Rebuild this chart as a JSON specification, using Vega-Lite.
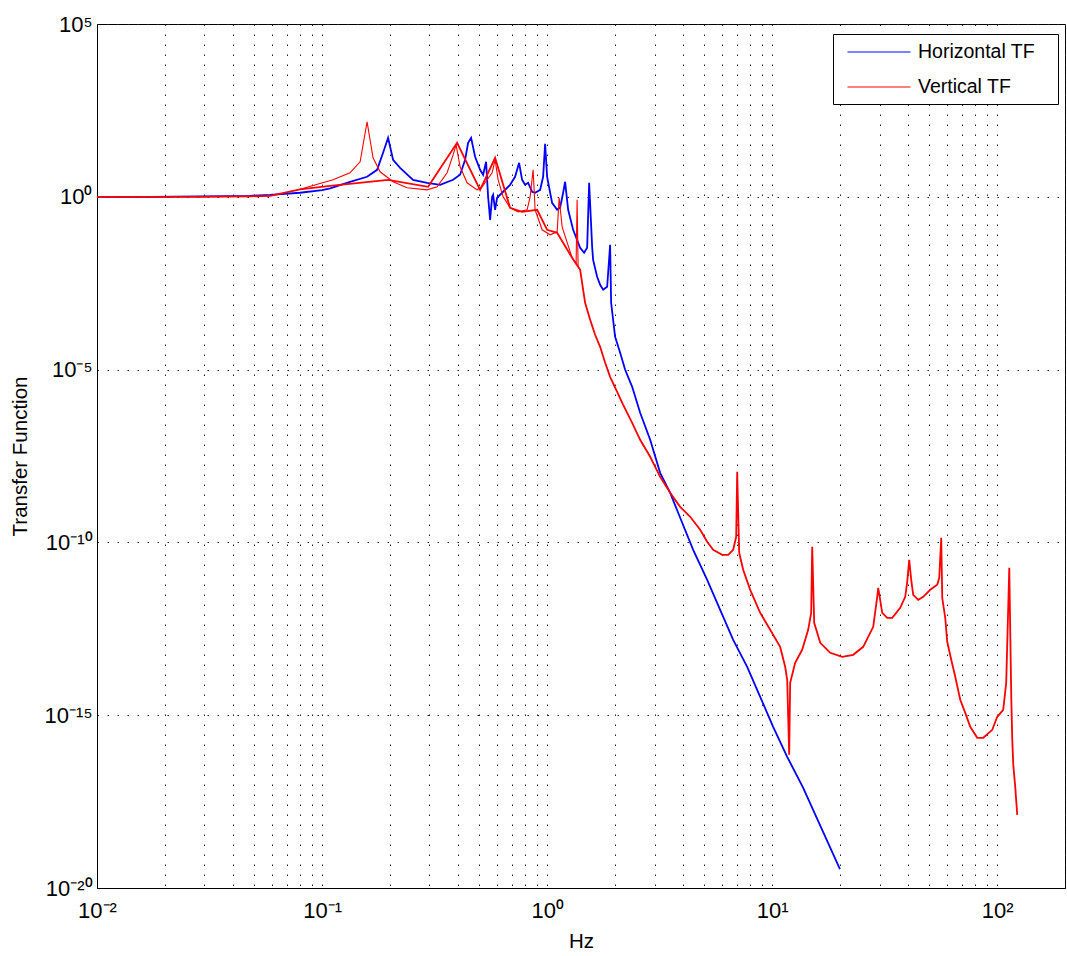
{
  "$schema": "https://vega.github.io/schema/vega-lite/v6.json",
  "width": 968,
  "height": 864,
  "autosize": {"type": "none"},
  "padding": {"left": 97, "top": 24, "right": 2, "bottom": 68},
  "background": "white",
  "config": {
    "view": {"stroke": "#000000", "strokeWidth": 1},
    "font": "Liberation Sans",
    "axis": {
      "domainColor": "#000000",
      "grid": true,
      "gridDash": [1.5, 8.5],
      "gridColor": "#222222",
      "gridWidth": 1,
      "ticks": false,
      "labelFont": "Liberation Sans",
      "labelFontSize": 22,
      "labelColor": "#000000",
      "labelFlush": false,
      "labelOverlap": false,
      "labelBound": false,
      "titleFont": "Liberation Sans",
      "titleFontSize": 20.5,
      "titleFontWeight": "normal",
      "titleColor": "#000000"
    },
    "legend": {
      "orient": "none",
      "legendX": 736,
      "legendY": 10,
      "strokeColor": "#000000",
      "fillColor": "#ffffff",
      "padding": 7,
      "symbolType": "M-0.333,0H5.667",
      "symbolSize": 441,
      "symbolStrokeWidth": 1,
      "labelFont": "Liberation Sans",
      "labelFontSize": 19.5,
      "labelColor": "#000000",
      "labelOffset": 56,
      "rowPadding": 14,
      "cornerRadius": 0
    }
  },
  "data": {
    "values": [
      {"series": "Horizontal TF", "trace": "main", "hz": 0.01, "tf": 1},
      {"series": "Horizontal TF", "trace": "main", "hz": 0.0172, "tf": 1.0},
      {"series": "Horizontal TF", "trace": "main", "hz": 0.0287, "tf": 1.03},
      {"series": "Horizontal TF", "trace": "main", "hz": 0.0479, "tf": 1.07},
      {"series": "Horizontal TF", "trace": "main", "hz": 0.0588, "tf": 1.14},
      {"series": "Horizontal TF", "trace": "main", "hz": 0.0798, "tf": 1.31},
      {"series": "Horizontal TF", "trace": "main", "hz": 0.1, "tf": 1.55},
      {"series": "Horizontal TF", "trace": "main", "hz": 0.1086, "tf": 1.75},
      {"series": "Horizontal TF", "trace": "main", "hz": 0.1331, "tf": 2.72},
      {"series": "Horizontal TF", "trace": "main", "hz": 0.1585, "tf": 3.79},
      {"series": "Horizontal TF", "trace": "main", "hz": 0.1756, "tf": 6.04},
      {"series": "Horizontal TF", "trace": "main", "hz": 0.1867, "tf": 18.8},
      {"series": "Horizontal TF", "trace": "main", "hz": 0.1965, "tf": 50.9},
      {"series": "Horizontal TF", "trace": "main", "hz": 0.2068, "tf": 11.8},
      {"series": "Horizontal TF", "trace": "main", "hz": 0.2222, "tf": 6.91},
      {"series": "Horizontal TF", "trace": "main", "hz": 0.2537, "tf": 3.10},
      {"series": "Horizontal TF", "trace": "main", "hz": 0.2929, "tf": 2.54},
      {"series": "Horizontal TF", "trace": "main", "hz": 0.3346, "tf": 2.22},
      {"series": "Horizontal TF", "trace": "main", "hz": 0.3822, "tf": 3.10},
      {"series": "Horizontal TF", "trace": "main", "hz": 0.4105, "tf": 4.33},
      {"series": "Horizontal TF", "trace": "main", "hz": 0.4321, "tf": 11.8},
      {"series": "Horizontal TF", "trace": "main", "hz": 0.4456, "tf": 36.5},
      {"series": "Horizontal TF", "trace": "main", "hz": 0.4595, "tf": 50.9},
      {"series": "Horizontal TF", "trace": "main", "hz": 0.4786, "tf": 14.4},
      {"series": "Horizontal TF", "trace": "main", "hz": 0.5037, "tf": 6.04},
      {"series": "Horizontal TF", "trace": "main", "hz": 0.5195, "tf": 4.33},
      {"series": "Horizontal TF", "trace": "main", "hz": 0.5356, "tf": 10.3},
      {"series": "Horizontal TF", "trace": "main", "hz": 0.5468, "tf": 1.0},
      {"series": "Horizontal TF", "trace": "main", "hz": 0.5581, "tf": 0.216},
      {"series": "Horizontal TF", "trace": "main", "hz": 0.5696, "tf": 1.0},
      {"series": "Horizontal TF", "trace": "main", "hz": 0.5754, "tf": 1.14},
      {"series": "Horizontal TF", "trace": "main", "hz": 0.5873, "tf": 0.421},
      {"series": "Horizontal TF", "trace": "main", "hz": 0.5995, "tf": 0.936},
      {"series": "Horizontal TF", "trace": "main", "hz": 0.6375, "tf": 1.40},
      {"series": "Horizontal TF", "trace": "main", "hz": 0.6846, "tf": 2.22},
      {"series": "Horizontal TF", "trace": "main", "hz": 0.7205, "tf": 3.79},
      {"series": "Horizontal TF", "trace": "main", "hz": 0.7507, "tf": 9.63},
      {"series": "Horizontal TF", "trace": "main", "hz": 0.7743, "tf": 3.10},
      {"series": "Horizontal TF", "trace": "main", "hz": 0.7984, "tf": 2.22},
      {"series": "Horizontal TF", "trace": "main", "hz": 0.8234, "tf": 2.54},
      {"series": "Horizontal TF", "trace": "main", "hz": 0.8577, "tf": 1.40},
      {"series": "Horizontal TF", "trace": "main", "hz": 0.8844, "tf": 1.31},
      {"series": "Horizontal TF", "trace": "main", "hz": 0.931, "tf": 1.59},
      {"series": "Horizontal TF", "trace": "main", "hz": 0.9599, "tf": 3.79},
      {"series": "Horizontal TF", "trace": "main", "hz": 0.9797, "tf": 34.2},
      {"series": "Horizontal TF", "trace": "main", "hz": 1.0, "tf": 3.79},
      {"series": "Horizontal TF", "trace": "main", "hz": 1.052, "tf": 0.671},
      {"series": "Horizontal TF", "trace": "main", "hz": 1.108, "tf": 0.421},
      {"series": "Horizontal TF", "trace": "main", "hz": 1.142, "tf": 0.481},
      {"series": "Horizontal TF", "trace": "main", "hz": 1.178, "tf": 1.31},
      {"series": "Horizontal TF", "trace": "main", "hz": 1.202, "tf": 2.72},
      {"series": "Horizontal TF", "trace": "main", "hz": 1.24, "tf": 0.421},
      {"series": "Horizontal TF", "trace": "main", "hz": 1.305, "tf": 0.111},
      {"series": "Horizontal TF", "trace": "main", "hz": 1.402, "tf": 0.0334},
      {"series": "Horizontal TF", "trace": "main", "hz": 1.46, "tf": 0.024},
      {"series": "Horizontal TF", "trace": "main", "hz": 1.506, "tf": 0.0334},
      {"series": "Horizontal TF", "trace": "main", "hz": 1.537, "tf": 2.54},
      {"series": "Horizontal TF", "trace": "main", "hz": 1.585, "tf": 0.0357},
      {"series": "Horizontal TF", "trace": "main", "hz": 1.601, "tf": 0.015},
      {"series": "Horizontal TF", "trace": "main", "hz": 1.668, "tf": 0.00484},
      {"series": "Horizontal TF", "trace": "main", "hz": 1.72, "tf": 0.00284},
      {"series": "Horizontal TF", "trace": "main", "hz": 1.774, "tf": 0.00204},
      {"series": "Horizontal TF", "trace": "main", "hz": 1.848, "tf": 0.00249},
      {"series": "Horizontal TF", "trace": "main", "hz": 1.867, "tf": 0.00632},
      {"series": "Horizontal TF", "trace": "main", "hz": 1.905, "tf": 0.0408},
      {"series": "Horizontal TF", "trace": "main", "hz": 1.925, "tf": 0.000857},
      {"series": "Horizontal TF", "trace": "main", "hz": 2.005, "tf": 8.89e-5},
      {"series": "Horizontal TF", "trace": "main", "hz": 2.111, "tf": 3.06e-5},
      {"series": "Horizontal TF", "trace": "main", "hz": 2.222, "tf": 9.87e-6},
      {"series": "Horizontal TF", "trace": "main", "hz": 2.387, "tf": 3.18e-6},
      {"series": "Horizontal TF", "trace": "main", "hz": 2.59, "tf": 5.62e-7},
      {"series": "Horizontal TF", "trace": "main", "hz": 2.87, "tf": 9.31e-8},
      {"series": "Horizontal TF", "trace": "main", "hz": 3.178, "tf": 1.03e-8},
      {"series": "Horizontal TF", "trace": "main", "hz": 3.522, "tf": 2.72e-9},
      {"series": "Horizontal TF", "trace": "main", "hz": 3.821, "tf": 7.19e-10},
      {"series": "Horizontal TF", "trace": "main", "hz": 4.456, "tf": 6.11e-11},
      {"series": "Horizontal TF", "trace": "main", "hz": 5.142, "tf": 8.28e-12},
      {"series": "Horizontal TF", "trace": "main", "hz": 5.873, "tf": 1.12e-12},
      {"series": "Horizontal TF", "trace": "main", "hz": 6.71, "tf": 1.52e-13},
      {"series": "Horizontal TF", "trace": "main", "hz": 7.743, "tf": 2.52e-14},
      {"series": "Horizontal TF", "trace": "main", "hz": 8.845, "tf": 3.41e-15},
      {"series": "Horizontal TF", "trace": "main", "hz": 10.1, "tf": 4.62e-16},
      {"series": "Horizontal TF", "trace": "main", "hz": 11.66, "tf": 6.25e-17},
      {"series": "Horizontal TF", "trace": "main", "hz": 13.73, "tf": 7.93e-18},
      {"series": "Horizontal TF", "trace": "main", "hz": 20.0, "tf": 3.5e-20},

      {"series": "Vertical TF", "trace": "main", "hz": 0.01, "tf": 1},
      {"series": "Vertical TF", "trace": "main", "hz": 0.0287, "tf": 1.0},
      {"series": "Vertical TF", "trace": "main", "hz": 0.0479, "tf": 1.03},
      {"series": "Vertical TF", "trace": "main", "hz": 0.0588, "tf": 1.07},
      {"series": "Vertical TF", "trace": "main", "hz": 0.0798, "tf": 1.65},
      {"series": "Vertical TF", "trace": "main", "hz": 0.1086, "tf": 2.08},
      {"series": "Vertical TF", "trace": "main", "hz": 0.1965, "tf": 3.10},
      {"series": "Vertical TF", "trace": "main", "hz": 0.2959, "tf": 1.95},
      {"series": "Vertical TF", "trace": "main", "hz": 0.3981, "tf": 36.5},
      {"series": "Vertical TF", "trace": "main", "hz": 0.5037, "tf": 1.59},
      {"series": "Vertical TF", "trace": "main", "hz": 0.5873, "tf": 13.4},
      {"series": "Vertical TF", "trace": "main", "hz": 0.6846, "tf": 0.481},
      {"series": "Vertical TF", "trace": "main", "hz": 0.7743, "tf": 0.368},
      {"series": "Vertical TF", "trace": "main", "hz": 0.9029, "tf": 0.421},
      {"series": "Vertical TF", "trace": "main", "hz": 1.0, "tf": 0.111},
      {"series": "Vertical TF", "trace": "main", "hz": 1.108, "tf": 0.0908},
      {"series": "Vertical TF", "trace": "main", "hz": 1.291, "tf": 0.0172},
      {"series": "Vertical TF", "trace": "main", "hz": 1.402, "tf": 0.00772},
      {"series": "Vertical TF", "trace": "main", "hz": 1.475, "tf": 0.000857},
      {"series": "Vertical TF", "trace": "main", "hz": 1.553, "tf": 0.000276},
      {"series": "Vertical TF", "trace": "main", "hz": 1.634, "tf": 0.000102},
      {"series": "Vertical TF", "trace": "main", "hz": 1.72, "tf": 4.57e-5},
      {"series": "Vertical TF", "trace": "main", "hz": 1.811, "tf": 1.57e-5},
      {"series": "Vertical TF", "trace": "main", "hz": 1.905, "tf": 6.19e-6},
      {"series": "Vertical TF", "trace": "main", "hz": 2.047, "tf": 2.28e-6},
      {"series": "Vertical TF", "trace": "main", "hz": 2.177, "tf": 9.58e-7},
      {"series": "Vertical TF", "trace": "main", "hz": 2.387, "tf": 2.89e-7},
      {"series": "Vertical TF", "trace": "main", "hz": 2.59, "tf": 9.31e-8},
      {"series": "Vertical TF", "trace": "main", "hz": 2.87, "tf": 3.0e-8},
      {"series": "Vertical TF", "trace": "main", "hz": 3.178, "tf": 7.91e-9},
      {"series": "Vertical TF", "trace": "main", "hz": 3.522, "tf": 2.72e-9},
      {"series": "Vertical TF", "trace": "main", "hz": 3.9, "tf": 1.07e-9},
      {"series": "Vertical TF", "trace": "main", "hz": 4.322, "tf": 5.5e-10},
      {"series": "Vertical TF", "trace": "main", "hz": 4.786, "tf": 2.32e-10},
      {"series": "Vertical TF", "trace": "main", "hz": 5.142, "tf": 1.04e-10},
      {"series": "Vertical TF", "trace": "main", "hz": 5.467, "tf": 6.11e-11},
      {"series": "Vertical TF", "trace": "main", "hz": 5.995, "tf": 4.38e-11},
      {"series": "Vertical TF", "trace": "main", "hz": 6.375, "tf": 4.38e-11},
      {"series": "Vertical TF", "trace": "main", "hz": 6.71, "tf": 6.11e-11},
      {"series": "Vertical TF", "trace": "main", "hz": 6.918, "tf": 1.45e-10},
      {"series": "Vertical TF", "trace": "main", "hz": 6.99, "tf": 1.1e-8},
      {"series": "Vertical TF", "trace": "main", "hz": 7.135, "tf": 5.0e-11},
      {"series": "Vertical TF", "trace": "main", "hz": 7.431, "tf": 1.61e-11},
      {"series": "Vertical TF", "trace": "main", "hz": 7.984, "tf": 4.25e-12},
      {"series": "Vertical TF", "trace": "main", "hz": 8.845, "tf": 9.18e-13},
      {"series": "Vertical TF", "trace": "main", "hz": 9.797, "tf": 2.96e-13},
      {"series": "Vertical TF", "trace": "main", "hz": 10.85, "tf": 9.53e-14},
      {"series": "Vertical TF", "trace": "main", "hz": 11.42, "tf": 2.52e-14},
      {"series": "Vertical TF", "trace": "main", "hz": 11.66, "tf": 1.06e-14},
      {"series": "Vertical TF", "trace": "main", "hz": 11.9, "tf": 7.14e-17},
      {"series": "Vertical TF", "trace": "main", "hz": 12.02, "tf": 8.66e-15},
      {"series": "Vertical TF", "trace": "main", "hz": 12.65, "tf": 3.28e-14},
      {"series": "Vertical TF", "trace": "main", "hz": 13.59, "tf": 7.81e-14},
      {"series": "Vertical TF", "trace": "main", "hz": 14.45, "tf": 2.96e-13},
      {"series": "Vertical TF", "trace": "main", "hz": 14.9, "tf": 9.18e-13},
      {"series": "Vertical TF", "trace": "main", "hz": 15.06, "tf": 7.46e-11},
      {"series": "Vertical TF", "trace": "main", "hz": 15.37, "tf": 4.72e-13},
      {"series": "Vertical TF", "trace": "main", "hz": 16.35, "tf": 1.24e-13},
      {"series": "Vertical TF", "trace": "main", "hz": 18.11, "tf": 6.39e-14},
      {"series": "Vertical TF", "trace": "main", "hz": 20.47, "tf": 4.9e-14},
      {"series": "Vertical TF", "trace": "main", "hz": 22.91, "tf": 5.59e-14},
      {"series": "Vertical TF", "trace": "main", "hz": 25.37, "tf": 9.53e-14},
      {"series": "Vertical TF", "trace": "main", "hz": 28.11, "tf": 3.61e-13},
      {"series": "Vertical TF", "trace": "main", "hz": 29.29, "tf": 2.67e-12},
      {"series": "Vertical TF", "trace": "main", "hz": 29.59, "tf": 4.86e-12},
      {"series": "Vertical TF", "trace": "main", "hz": 30.83, "tf": 9.18e-13},
      {"series": "Vertical TF", "trace": "main", "hz": 32.45, "tf": 6.58e-13},
      {"series": "Vertical TF", "trace": "main", "hz": 34.15, "tf": 6.58e-13},
      {"series": "Vertical TF", "trace": "main", "hz": 37.05, "tf": 1.28e-12},
      {"series": "Vertical TF", "trace": "main", "hz": 39.0, "tf": 2.67e-12},
      {"series": "Vertical TF", "trace": "main", "hz": 39.81, "tf": 7.24e-12},
      {"series": "Vertical TF", "trace": "main", "hz": 40.63, "tf": 3.14e-11},
      {"series": "Vertical TF", "trace": "main", "hz": 41.47, "tf": 8.28e-12},
      {"series": "Vertical TF", "trace": "main", "hz": 42.33, "tf": 3.05e-12},
      {"series": "Vertical TF", "trace": "main", "hz": 44.56, "tf": 2.18e-12},
      {"series": "Vertical TF", "trace": "main", "hz": 46.9, "tf": 2.67e-12},
      {"series": "Vertical TF", "trace": "main", "hz": 50.37, "tf": 4.25e-12},
      {"series": "Vertical TF", "trace": "main", "hz": 54.12, "tf": 5.93e-12},
      {"series": "Vertical TF", "trace": "main", "hz": 55.24, "tf": 9.46e-12},
      {"series": "Vertical TF", "trace": "main", "hz": 56.38, "tf": 1.36e-10},
      {"series": "Vertical TF", "trace": "main", "hz": 56.96, "tf": 2.49e-12},
      {"series": "Vertical TF", "trace": "main", "hz": 58.73, "tf": 6.58e-13},
      {"series": "Vertical TF", "trace": "main", "hz": 59.95, "tf": 1.33e-13},
      {"series": "Vertical TF", "trace": "main", "hz": 62.46, "tf": 4.01e-14},
      {"series": "Vertical TF", "trace": "main", "hz": 65.07, "tf": 1.29e-14},
      {"series": "Vertical TF", "trace": "main", "hz": 68.48, "tf": 2.79e-15},
      {"series": "Vertical TF", "trace": "main", "hz": 72.08, "tf": 1.17e-15},
      {"series": "Vertical TF", "trace": "main", "hz": 75.86, "tf": 4.62e-16},
      {"series": "Vertical TF", "trace": "main", "hz": 81.49, "tf": 2.22e-16},
      {"series": "Vertical TF", "trace": "main", "hz": 86.66, "tf": 2.22e-16},
      {"series": "Vertical TF", "trace": "main", "hz": 95.02, "tf": 3.78e-16},
      {"series": "Vertical TF", "trace": "main", "hz": 100, "tf": 8.99e-16},
      {"series": "Vertical TF", "trace": "main", "hz": 106.3, "tf": 1.43e-15},
      {"series": "Vertical TF", "trace": "main", "hz": 109.6, "tf": 8.66e-15},
      {"series": "Vertical TF", "trace": "main", "hz": 113.1, "tf": 1.84e-11},
      {"series": "Vertical TF", "trace": "main", "hz": 115.4, "tf": 3.41e-15},
      {"series": "Vertical TF", "trace": "main", "hz": 116.6, "tf": 1.94e-16},
      {"series": "Vertical TF", "trace": "main", "hz": 117.8, "tf": 3.67e-17},
      {"series": "Vertical TF", "trace": "main", "hz": 120.2, "tf": 8.48e-18},
      {"series": "Vertical TF", "trace": "main", "hz": 122.7, "tf": 1.31e-18},

      {"series": "Vertical TF", "trace": "thin", "hz": 0.0798, "tf": 1.65},
      {"series": "Vertical TF", "trace": "thin", "hz": 0.1119, "tf": 3.10},
      {"series": "Vertical TF", "trace": "thin", "hz": 0.1331, "tf": 4.95},
      {"series": "Vertical TF", "trace": "thin", "hz": 0.1476, "tf": 10.3},
      {"series": "Vertical TF", "trace": "thin", "hz": 0.1585, "tf": 148},
      {"series": "Vertical TF", "trace": "thin", "hz": 0.1685, "tf": 13.4},
      {"series": "Vertical TF", "trace": "thin", "hz": 0.1811, "tf": 5.29},
      {"series": "Vertical TF", "trace": "thin", "hz": 0.2068, "tf": 2.72},
      {"series": "Vertical TF", "trace": "thin", "hz": 0.2386, "tf": 1.82},
      {"series": "Vertical TF", "trace": "thin", "hz": 0.2929, "tf": 1.59},
      {"series": "Vertical TF", "trace": "thin", "hz": 0.3245, "tf": 1.95},
      {"series": "Vertical TF", "trace": "thin", "hz": 0.3594, "tf": 4.95},
      {"series": "Vertical TF", "trace": "thin", "hz": 0.3822, "tf": 16.4},
      {"series": "Vertical TF", "trace": "thin", "hz": 0.3941, "tf": 31.9},
      {"series": "Vertical TF", "trace": "thin", "hz": 0.4105, "tf": 7.38},
      {"series": "Vertical TF", "trace": "thin", "hz": 0.441, "tf": 2.54},
      {"series": "Vertical TF", "trace": "thin", "hz": 0.4885, "tf": 1.59},
      {"series": "Vertical TF", "trace": "thin", "hz": 0.5141, "tf": 1.95},
      {"series": "Vertical TF", "trace": "thin", "hz": 0.5696, "tf": 4.95},
      {"series": "Vertical TF", "trace": "thin", "hz": 0.5873, "tf": 11.8},
      {"series": "Vertical TF", "trace": "thin", "hz": 0.6057, "tf": 3.10},
      {"series": "Vertical TF", "trace": "thin", "hz": 0.6375, "tf": 1.0},
      {"series": "Vertical TF", "trace": "thin", "hz": 0.6846, "tf": 0.481},
      {"series": "Vertical TF", "trace": "thin", "hz": 0.743, "tf": 0.368},
      {"series": "Vertical TF", "trace": "thin", "hz": 0.8149, "tf": 0.421},
      {"series": "Vertical TF", "trace": "thin", "hz": 0.8403, "tf": 1.0},
      {"series": "Vertical TF", "trace": "thin", "hz": 0.8665, "tf": 6.04},
      {"series": "Vertical TF", "trace": "thin", "hz": 0.8844, "tf": 0.421},
      {"series": "Vertical TF", "trace": "thin", "hz": 0.9502, "tf": 0.111},
      {"series": "Vertical TF", "trace": "thin", "hz": 1.031, "tf": 0.0795},
      {"series": "Vertical TF", "trace": "thin", "hz": 1.108, "tf": 0.0971},
      {"series": "Vertical TF", "trace": "thin", "hz": 1.131, "tf": 0.936},
      {"series": "Vertical TF", "trace": "thin", "hz": 1.166, "tf": 0.135},
      {"series": "Vertical TF", "trace": "thin", "hz": 1.291, "tf": 0.0172},
      {"series": "Vertical TF", "trace": "thin", "hz": 1.345, "tf": 0.0115},
      {"series": "Vertical TF", "trace": "thin", "hz": 1.359, "tf": 0.819},
      {"series": "Vertical TF", "trace": "thin", "hz": 1.373, "tf": 0.00943},
      {"series": "Vertical TF", "trace": "thin", "hz": 1.402, "tf": 0.00772}
    ]
  },
  "encoding": {
    "x": {
      "field": "hz",
      "type": "quantitative",
      "scale": {"type": "log", "domain": [0.01, 200], "nice": false},
      "axis": {
        "values": [0.01, 0.02, 0.03, 0.04, 0.05, 0.06, 0.07, 0.08, 0.09, 0.1, 0.2, 0.3, 0.4, 0.5, 0.6, 0.7, 0.8, 0.9, 1, 2, 3, 4, 5, 6, 7, 8, 9, 10, 20, 30, 40, 50, 60, 70, 80, 90, 100, 200],
        "labelExpr": "datum.value == 0.01 ? '10⁻²' : datum.value == 0.1 ? '10⁻¹' : datum.value == 1 ? '10⁰' : datum.value == 10 ? '10¹' : datum.value == 100 ? '10²' : ''",
        "labelPadding": 12,
        "title": "Hz",
        "titleY": 53,
        "titleBaseline": "middle"
      }
    },
    "y": {
      "field": "tf",
      "type": "quantitative",
      "scale": {"type": "log", "domain": [1e-20, 100000], "nice": false},
      "axis": {
        "values": [1e-20, 1e-15, 1e-10, 1e-5, 1, 100000],
        "labelExpr": "datum.value < 1e-18 ? '10⁻²⁰' : datum.value < 1e-13 ? '10⁻¹⁵' : datum.value < 1e-8 ? '10⁻¹⁰' : datum.value < 1e-3 ? '10⁻⁵' : datum.value < 10 ? '10⁰' : '10⁵'",
        "labelPadding": 5,
        "title": "Transfer Function",
        "titleX": -77,
        "titleBaseline": "middle"
      }
    },
    "color": {
      "field": "series",
      "type": "nominal",
      "scale": {"domain": ["Horizontal TF", "Vertical TF"], "range": ["#0000ff", "#ff0000"]},
      "legend": {"title": null, "labelExpr": "datum.label + '\u2800'"}
    }
  },
  "layer": [
    {
      "transform": [{"filter": "datum.trace == 'main'"}],
      "mark": {"type": "line", "strokeWidth": 1.8, "clip": true}
    },
    {
      "transform": [{"filter": "datum.trace == 'thin'"}],
      "mark": {"type": "line", "strokeWidth": 1.1, "clip": true}
    }
  ]
}
